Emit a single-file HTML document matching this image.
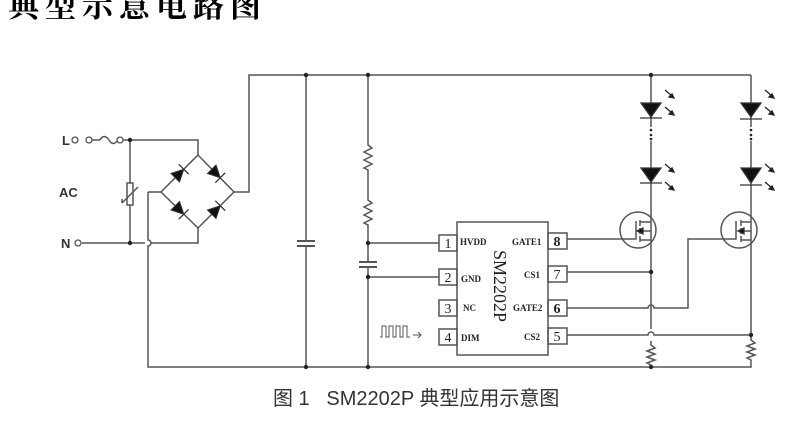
<!DOCTYPE html>
<html><head><meta charset="utf-8"><style>
html,body{margin:0;padding:0;background:#fff;width:800px;height:427px;overflow:hidden}
svg{display:block}
</style></head><body>
<svg width="800" height="427" viewBox="0 0 800 427" xmlns="http://www.w3.org/2000/svg">
<defs>
<g id="d"><path d="M-6,-6 L6,0 L-6,6 Z" fill="#111" stroke="#333" stroke-width="1"/><path d="M6,-7 V7" stroke="#333" stroke-width="1.3"/></g>
</defs>
<text x="8" y="17" font-family="'Noto Serif CJK SC','Noto Sans CJK SC',serif" font-weight="bold" font-size="31" letter-spacing="6" fill="#000">典型示意电路图</text>
<g stroke="#555" stroke-width="1.5" fill="none">
<path d="M234,192 H249 V75 H751"/>
<path d="M148,192 H161"/>
<path d="M148,192 V240 a3,3 0 0 1 0,6 V367 H651"/>
<path d="M92,140 H100 M118,140 H130 H198 V155"/>
<path d="M130,140 V243"/>
<path d="M82,243 H145 M151,243 H198 V228"/>
<path d="M198,155 L234,192 L198,228 L161,192 Z"/>
<path d="M306,75 V241 M306,246 V367"/>
<path d="M297,241 H315 M297,246 H315" stroke-width="2"/>
<path d="M368,75 V145 l4,3 -8,4 8,4 -8,4 8,4 -8,4 4,2 V200 l4,3 -8,4 8,4 -8,4 8,4 -8,4 4,2 V262 M368,267 V367"/>
<path d="M359,262 H377 M359,267 H377" stroke-width="2"/>
<path d="M368,243 H439 M368,277 H439"/>
<rect x="457" y="222" width="91" height="133"/>
<rect x="439" y="235" width="18" height="16"/><rect x="439" y="269" width="18" height="16"/>
<rect x="439" y="300" width="18" height="16"/><rect x="439" y="329" width="18" height="16"/>
<rect x="548" y="233" width="19" height="16"/><rect x="548" y="266" width="19" height="16"/>
<rect x="548" y="300" width="19" height="16"/><rect x="548" y="328" width="19" height="16"/>
<path d="M567,239 H620"/>
<path d="M567,272 H651"/>
<path d="M567,308 H648 a3,3 0 0 1 6,0 H688 V239 H721"/>
<path d="M567,335 H648 a3,3 0 0 1 6,0 H751"/>
<path d="M651,75 V127 M651,141 V248 V329 M651,341 V345 l4,3 -8,3 8,3 -8,3 8,3 -8,3 4,2 V367"/>
<path d="M751,75 V127 M751,141 V248 V335 V340 l4,3 -8,3 8,3 -8,3 8,3 -8,3 4,2 V367 H651"/>
<circle cx="638" cy="230" r="18"/><circle cx="739" cy="230" r="18"/>
<path d="M620,239 H636 V221 M640,220 V226 M640,228 V234 M640,236 V242 M640,222 H651 M640,240 H651 M640,231 H651"/>
<path d="M721,239 H736 V221 M741,220 V226 M741,228 V234 M741,236 V242 M741,222 H751 M741,240 H751 M741,231 H751"/>
<rect x="127" y="183" width="6" height="22" fill="#fff"/>
<path d="M122,203 L138,187 M122,203 L122,199"/>
<path d="M100,140 q4,-7 9,0 q4,7 9,0"/>
<path d="M380,337 H382 V326 H386 V337 H389 V326 H393 V337 H396 V326 H400 V337 H403 V326 H407 V337 H410 M413,335 H421 M418,332 l3,3 -3,3" stroke-width="1"/>
</g>
<g fill="#fff" stroke="#555" stroke-width="1.3">
<circle cx="75" cy="140" r="3"/><circle cx="89" cy="140" r="3"/><circle cx="120" cy="140" r="3"/>
<circle cx="78" cy="243" r="3"/>
</g>
<use href="#d" transform="translate(179.5,173.5) rotate(-45)"/>
<use href="#d" transform="translate(216,173.5) rotate(45)"/>
<use href="#d" transform="translate(179.5,210) rotate(45)"/>
<use href="#d" transform="translate(216,210) rotate(-45)"/>
<g fill="#111" stroke="#333" stroke-width="1.3">
<path d="M641,103 H661 L651,117 Z"/><path d="M640,118 H662"/>
<path d="M641,168 H661 L651,182 Z"/><path d="M640,183 H662"/>
<path d="M741,103 H761 L751,117 Z"/><path d="M740,119 H762"/>
<path d="M741,168 H761 L751,183 Z"/><path d="M740,185 H762"/>
<path d="M637,231 l6,-3 v6 z"/><path d="M738,231 l6,-3 v6 z"/>
</g>
<g fill="#222">
<circle cx="651" cy="130" r="1.3"/><circle cx="651" cy="135" r="1.3"/><circle cx="651" cy="139" r="1.3"/>
<circle cx="751" cy="130" r="1.3"/><circle cx="751" cy="135" r="1.3"/><circle cx="751" cy="139" r="1.3"/>
<circle cx="130" cy="140" r="2.2"/><circle cx="130" cy="243" r="2.2"/>
<circle cx="306" cy="75" r="2.2"/><circle cx="368" cy="75" r="2.2"/><circle cx="651" cy="75" r="2.2"/>
<circle cx="306" cy="367" r="2.2"/><circle cx="368" cy="367" r="2.2"/><circle cx="651" cy="367" r="2.2"/>
<circle cx="368" cy="243" r="2.2"/><circle cx="368" cy="277" r="2.2"/>
<circle cx="651" cy="272" r="2.2"/><circle cx="751" cy="335" r="2.2"/>
</g>
<g stroke="#222" stroke-width="1.3" fill="#222">
<path d="M665,90 l7,6"/><path d="M674,98 l-5,-1 3,-3z"/>
<path d="M665,107 l7,6"/><path d="M674,115 l-5,-1 3,-3z"/>
<path d="M665,164 l7,6"/><path d="M674,172 l-5,-1 3,-3z"/>
<path d="M665,182 l7,6"/><path d="M674,190 l-5,-1 3,-3z"/>
<path d="M765,90 l7,6"/><path d="M774,98 l-5,-1 3,-3z"/>
<path d="M765,107 l7,6"/><path d="M774,115 l-5,-1 3,-3z"/>
<path d="M765,164 l7,6"/><path d="M774,172 l-5,-1 3,-3z"/>
<path d="M765,182 l7,6"/><path d="M774,190 l-5,-1 3,-3z"/>
</g>
<g font-family="'Liberation Sans',sans-serif" font-weight="bold" font-size="13" fill="#333">
<text x="62" y="145">L</text><text x="59" y="197">AC</text><text x="61" y="248">N</text>
</g>
<g font-family="'Liberation Serif',serif" fill="#222">
<g font-size="14" text-anchor="middle">
<text x="448" y="248">1</text><text x="448" y="282">2</text><text x="448" y="313">3</text><text x="448" y="342">4</text>
<text x="557" y="246" font-weight="bold">8</text><text x="557" y="279">7</text><text x="557" y="313" font-weight="bold">6</text><text x="557" y="341">5</text>
</g>
<g font-size="9" font-weight="bold">
<text x="460" y="245">HVDD</text><text x="461" y="282">GND</text><text x="463" y="311">NC</text><text x="461" y="341">DIM</text>
<text x="512" y="245">GATE1</text><text x="524" y="278">CS1</text><text x="513" y="311">GATE2</text><text x="524" y="340">CS2</text>
</g>
<text x="0" y="0" font-size="18" transform="translate(494,250) rotate(90)">SM2202P</text>
</g>
<text x="273" y="405" font-family="'Liberation Sans','Noto Sans CJK SC',sans-serif" font-size="20" fill="#333" xml:space="preserve">图 1   SM2202P 典型应用示意图</text>
</svg>
</body></html>
